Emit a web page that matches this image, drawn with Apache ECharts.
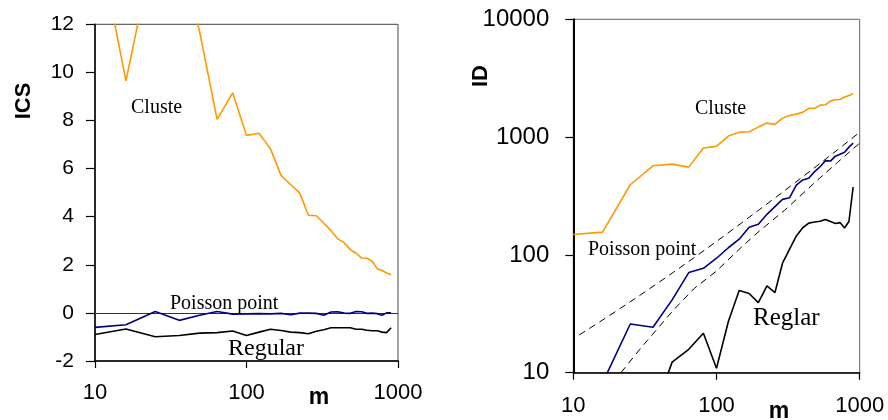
<!DOCTYPE html>
<html>
<head>
<meta charset="utf-8">
<script src="https://cdn.jsdelivr.net/npm/echarts@6/dist/echarts.min.js"></script>
<style>
html,body{margin:0;padding:0;background:#fff;}
#c{width:888px;height:420px;}
</style>
</head>
<body>
<div id="c"></div>
<script>
// sample sizes m (shared by all measured series)
const mVals = [10,16,25,36,49,64,81,100,121,144,169,196,225,256,289,324,361,400,441,484,529,576,625,676,729,784,841,900];

// Left panel: ICS
const icsCluster = [16.2,9.65,15.5,15.0,11.7,8.05,9.15,7.38,7.47,6.82,5.72,5.33,4.98,4.06,4.04,3.73,3.42,3.08,2.92,2.63,2.48,2.28,2.27,2.15,1.84,1.76,1.66,1.59];
const icsPoisson = [-0.6,-0.49,0.06,-0.31,-0.1,0.06,-0.05,-0.04,-0.03,-0.04,-0.02,-0.08,-0.01,-0.01,-0.02,-0.1,0.04,0.05,-0.01,-0.02,0.06,0.05,-0.02,-0.01,-0.03,-0.1,0.0,0.0];
const icsRegular = [-0.9,-0.67,-0.99,-0.94,-0.84,-0.82,-0.75,-0.94,-0.8,-0.68,-0.73,-0.8,-0.82,-0.87,-0.76,-0.7,-0.62,-0.62,-0.62,-0.62,-0.68,-0.68,-0.72,-0.74,-0.74,-0.8,-0.82,-0.62];

// Right panel: ID
const idCluster = [149,156,394,571,590,556,807,834,1020,1102,1111,1216,1315,1282,1449,1527,1567,1621,1753,1760,1869,1880,2021,2075,2085,2187,2250,2334];
const idPoisson = [4,8.2,25.9,24.3,41.5,70.8,77,93.7,115,136,172,182,221,257,296,306,392,433,448,509,560,631,626,689,716,743,822,890];
const idRegular = [1.5,2,2.5,4.4,12.3,15.8,21.6,10.9,27.2,49.8,47,39.3,54.6,47.9,85,112,145,170,186,190,193,200,192,185,188,169,192,377];

// Dashed envelope lines
const upperM = [11,15,20,30,50,70,100,150,200,300,500,700,1000];
const upperBound = [20.9,26.6,33.4,46.4,71.2,95,130,187,243,352,567,780,1100];
const lowerM = [21.5,30,50,70,100,150,200,300,500,700,1000];
const lowerBound = [10,16.5,34,52,73,117,160,240,425,610,890];

// tick labels
const leftYTicks = [-2,0,2,4,6,8,10,12];
const xTicks = [10,100,1000];

const zip = (xs, ys) => xs.map((x, i) => [x, ys[i]]);
const plain = v => String(Math.round(v));

const chart = echarts.init(document.getElementById('c'), null, {renderer:'canvas'});
const FONT = '"Liberation Sans", Arial, sans-serif';
const SERIF = '"Liberation Serif", "Times New Roman", serif';

const xAxisBase = {
  type:'log', logBase:10, min:xTicks[0], max:xTicks[xTicks.length-1],
  axisLine:{show:true, onZero:false, lineStyle:{color:'#000', width:1.5}},
  axisTick:{show:true, length:7, inside:false, lineStyle:{color:'#000', width:1.2}},
  minorTick:{show:false},
  splitLine:{show:false},
  axisLabel:{fontSize:22, color:'#000', fontFamily:FONT, margin:21, formatter:plain}
};

const lineSeries = (name, data, color, xi, dashed, width) => ({
  name, type:'line', xAxisIndex:xi, yAxisIndex:xi, data,
  showSymbol:false, symbol:'none', clip:true, silent:true,
  lineStyle:{color, width: width || 1.6, type: dashed ? [7,5] : 'solid'},
  z: dashed ? 2 : 3
});

const option = {
  animation:false,
  backgroundColor:'#fff',
  grid:[
    {left:95, top:24.3, width:303, height:336.7, show:true, borderColor:'#444', borderWidth:1, backgroundColor:'transparent'},
    {left:573.3, top:19.3, width:286.4, height:353.4, show:true, borderColor:'#666', borderWidth:1, backgroundColor:'transparent'}
  ],
  xAxis:[
    Object.assign({gridIndex:0}, xAxisBase),
    Object.assign({gridIndex:1}, xAxisBase, {axisLabel:{fontSize:22, color:'#000', fontFamily:FONT, margin:22, formatter:plain}})
  ],
  yAxis:[
    {gridIndex:0, type:'value', min:leftYTicks[0], max:leftYTicks[leftYTicks.length-1], interval:2,
     axisLine:{show:true, onZero:false, lineStyle:{color:'#000', width:1.5}},
     axisTick:{show:true, length:9, lineStyle:{color:'#000', width:1.2}},
     splitLine:{show:false},
     axisLabel:{fontSize:21, color:'#000', fontFamily:FONT, margin:21}},
    {gridIndex:1, type:'log', logBase:10, min:10, max:10000,
     axisLine:{show:true, onZero:false, lineStyle:{color:'#000', width:2}},
     axisTick:{show:true, length:8, lineStyle:{color:'#000', width:1.2}},
     minorTick:{show:false},
     splitLine:{show:false},
     axisLabel:{fontSize:24, color:'#000', fontFamily:FONT, margin:24, formatter:plain}}
  ],
  series:[
    lineSeries('Cluster ICS', zip(mVals, icsCluster), '#FF9900', 0),
    Object.assign(lineSeries('Poisson ICS', zip(mVals, icsPoisson), '#000080', 0), {
      markLine:{silent:true, symbol:['none','none'], label:{show:false},
        lineStyle:{color:'#333', width:1, type:'solid'}, data:[{yAxis:0}], z:1}
    }),
    lineSeries('Regular ICS', zip(mVals, icsRegular), '#000', 0),
    lineSeries('Upper', zip(upperM, upperBound), '#000', 1, true, 1),
    lineSeries('Lower', zip(lowerM, lowerBound), '#000', 1, true, 1),
    lineSeries('Cluster ID', zip(mVals, idCluster), '#FF9900', 1),
    lineSeries('Poisson ID', zip(mVals, idPoisson), '#000080', 1),
    lineSeries('Regular ID', zip(mVals, idRegular), '#000', 1)
  ],
  graphic:[
    {type:'text', x:24, y:101, rotation:Math.PI/2, style:{text:'ICS', font:'bold 22px '+FONT, fill:'#000', align:'center', verticalAlign:'middle', textAlign:'center', textVerticalAlign:'middle'}},
    {type:'text', x:480.5, y:76, rotation:Math.PI/2, style:{text:'ID', font:'bold 22px '+FONT, fill:'#000', align:'center', verticalAlign:'middle', textAlign:'center', textVerticalAlign:'middle'}},
    {type:'text', x:319, y:398, style:{text:'m', font:'bold 23px '+FONT, fill:'#000', align:'center', verticalAlign:'middle', textAlign:'center', textVerticalAlign:'middle'}},
    {type:'text', x:779, y:412, style:{text:'m', font:'bold 23px '+FONT, fill:'#000', align:'center', verticalAlign:'middle', textAlign:'center', textVerticalAlign:'middle'}},
    {type:'text', x:131, y:108.2, style:{text:'Cluste', font:'20px '+SERIF, fill:'#000', align:'left', verticalAlign:'middle', textAlign:'left', textVerticalAlign:'middle'}},
    {type:'text', x:170, y:303.7, style:{text:'Poisson point', font:'20px '+SERIF, fill:'#000', align:'left', verticalAlign:'middle', textAlign:'left', textVerticalAlign:'middle'}},
    {type:'text', x:228, y:348.5, style:{text:'Regular', font:'24px '+SERIF, fill:'#000', align:'left', verticalAlign:'middle', textAlign:'left', textVerticalAlign:'middle'}},
    {type:'text', x:695, y:109.2, style:{text:'Cluste', font:'20px '+SERIF, fill:'#000', align:'left', verticalAlign:'middle', textAlign:'left', textVerticalAlign:'middle'}},
    {type:'text', x:588, y:249.8, style:{text:'Poisson point', font:'20px '+SERIF, fill:'#000', align:'left', verticalAlign:'middle', textAlign:'left', textVerticalAlign:'middle'}},
    {type:'text', x:753, y:318.1, style:{text:'Reglar', font:'25px '+SERIF, fill:'#000', align:'left', verticalAlign:'middle', textAlign:'left', textVerticalAlign:'middle'}}
  ]
};
chart.setOption(option);
</script>
</body>
</html>
